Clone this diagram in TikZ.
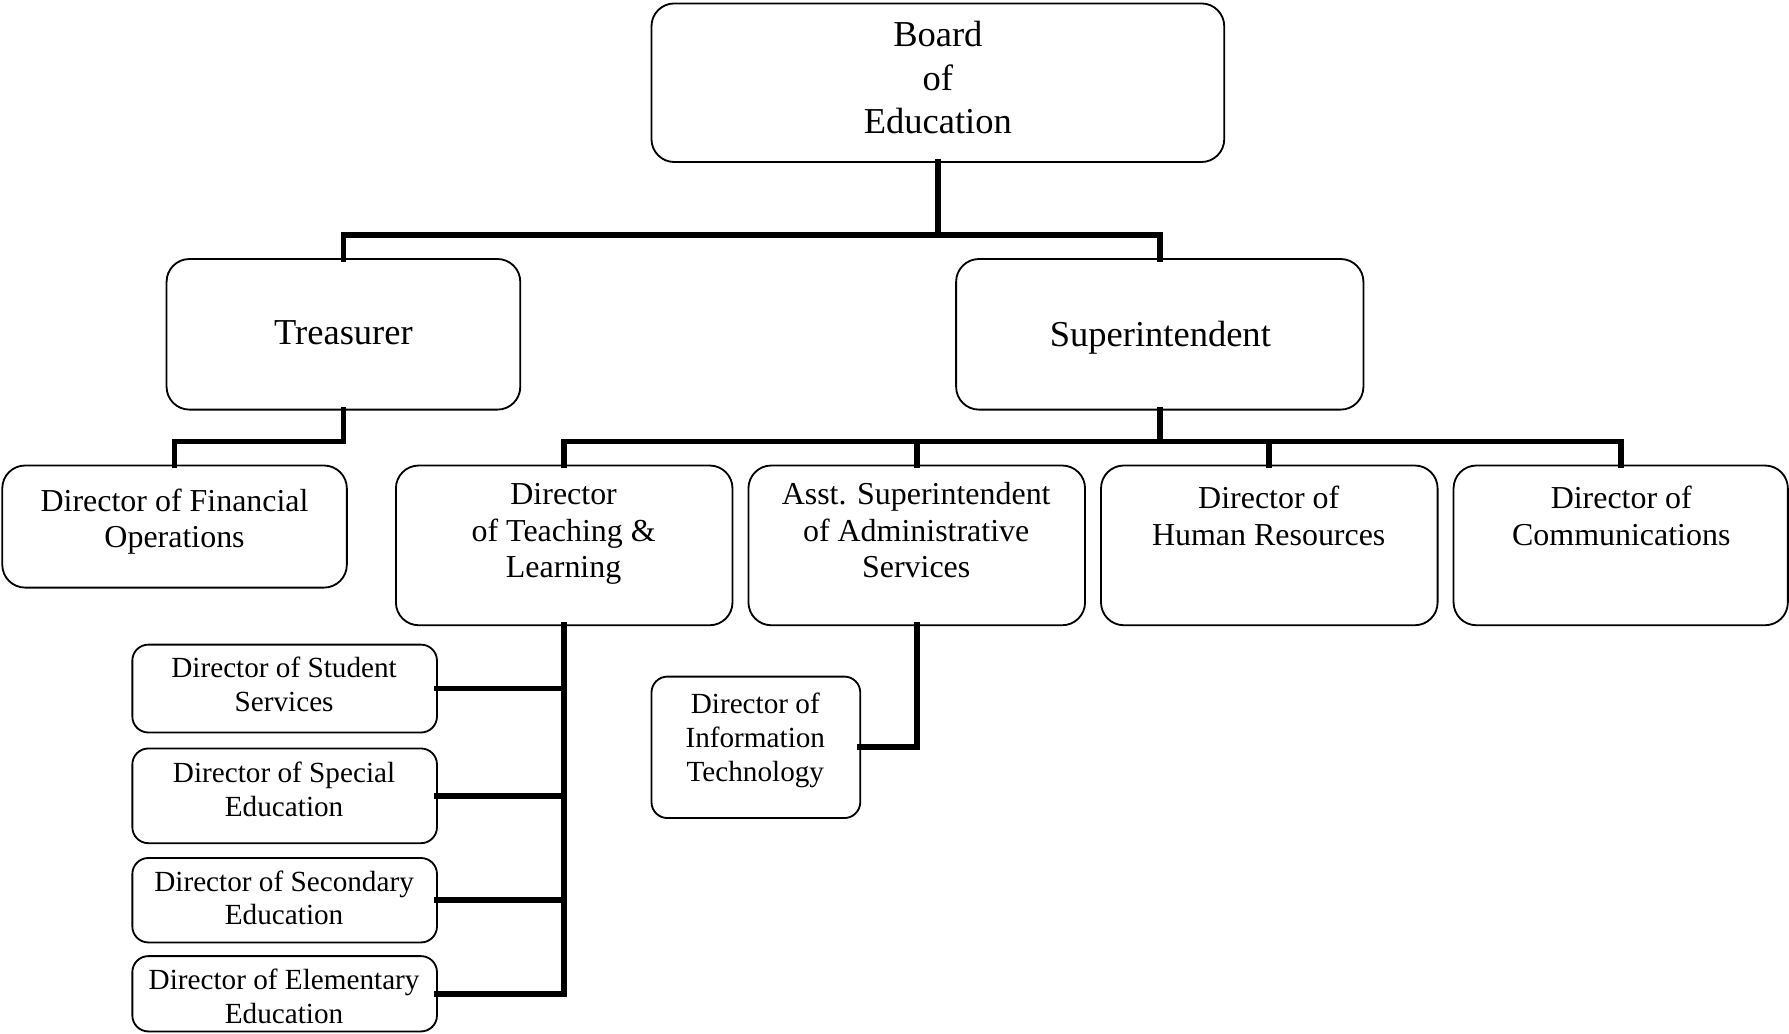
\documentclass[tikz,border=0pt]{standalone}
\usepackage{fontspec}
\setmainfont{Liberation Serif}
\begin{document}
\begin{tikzpicture}[x=0.5pt,y=-0.5pt,
  box/.style={draw=black,line width=0.8pt,rounded corners=10pt,fill=white,inner sep=0pt,outer sep=0pt},
  sbox/.style={box,rounded corners=7pt},
  conn/.style={line width=2.5pt,line cap=rect,line join=miter},
  big/.style={align=center,inner sep=0pt,font=\fontsize{16}{19}\selectfont},
  mid/.style={align=center,inner sep=0pt,font=\fontsize{14}{16}\selectfont},
  sml/.style={align=center,inner sep=0pt,font=\fontsize{12.8}{14.8}\selectfont}]
\useasboundingbox (0,0) rectangle (1568,906);
% boxes
\node[box,minimum width=251pt,minimum height=69.5pt] (board) at (822,72.5) {};
\node[box,minimum width=155pt,minimum height=66pt] (treas) at (301,293) {};
\node[box,minimum width=178.5pt,minimum height=66pt] (supt) at (1016.5,293) {};
\node[box,minimum width=151pt,minimum height=53.5pt] (fin) at (153,461.5) {};
\node[box,minimum width=147.5pt,minimum height=70pt] (teach) at (494.5,478) {};
\node[box,minimum width=147.5pt,minimum height=70pt] (asst) at (803.5,478) {};
\node[box,minimum width=147.5pt,minimum height=70pt] (hr) at (1112.5,478) {};
\node[box,minimum width=146.5pt,minimum height=70pt] (comm) at (1420.5,478) {};
\node[sbox,minimum width=133.5pt,minimum height=38.5pt] (stud) at (249.5,603.5) {};
\node[sbox,minimum width=133.5pt,minimum height=41.5pt] (spec) at (249.5,697.5) {};
\node[sbox,minimum width=133.5pt,minimum height=37pt] (sec) at (249.5,789) {};
\node[sbox,minimum width=133.5pt,minimum height=33pt] (elem) at (249.5,871) {};
\node[sbox,minimum width=91.5pt,minimum height=62pt] (it) at (662.5,655) {};
% texts
\node[big] (boardt) at (822,68) {Board\\of\\Education};
\node[big] (treast) at (301,292) {Treasurer};
\node[big] (suptt) at (1017,296) {Superintendent};
\node[mid] (fint) at (153,457) {Director of Financial\\Operations};
\node[mid] (teacht) at (494,468) {Director\\of Teaching \&\\Learning};
\node[mid] (asstt) at (803,465) {Asst. Superintendent\\of Administrative\\Services};
\node[mid] (hrt) at (1112,452) {Director of\\Human Resources};
\node[mid] (commt) at (1421,452) {Director of\\Communications};
\node[sml] (studt) at (249,600) {Director of Student\\Services};
\node[sml] (spect) at (249,692) {Director of Special\\Education};
\node[sml] (sect) at (249,787) {Director of Secondary\\Education};
\node[sml] (elemt) at (249,873.5) {Director of Elementary\\Education};
\node[sml] (itt) at (662,649) {Director of\\Information\\Technology};
% junctions
\coordinate (j1) at (822,206);
\coordinate (j2) at (1016.5,387);
\coordinate (j3) at (301,387);
% connectors
\draw[conn] (board.south) -- (j1);
\draw[conn] (treas.north) |- (j1) -| (supt.north);
\draw[conn] (treas.south) -- (j3) -| (fin.north);
\draw[conn] (supt.south) -- (j2);
\draw[conn] (teach.north) |- (j2) -| (comm.north);
\draw[conn] (asst.north) -- (asst.north |- j2);
\draw[conn] (hr.north) -- (hr.north |- j2);
\draw[conn] (teach.south) |- (elem.east);
\draw[conn] (stud.east) -- (stud.east -| teach.south);
\draw[conn] (spec.east) -- (spec.east -| teach.south);
\draw[conn] (sec.east) -- (sec.east -| teach.south);
\draw[conn] (asst.south) |- (it.east);
\end{tikzpicture}
\end{document}
